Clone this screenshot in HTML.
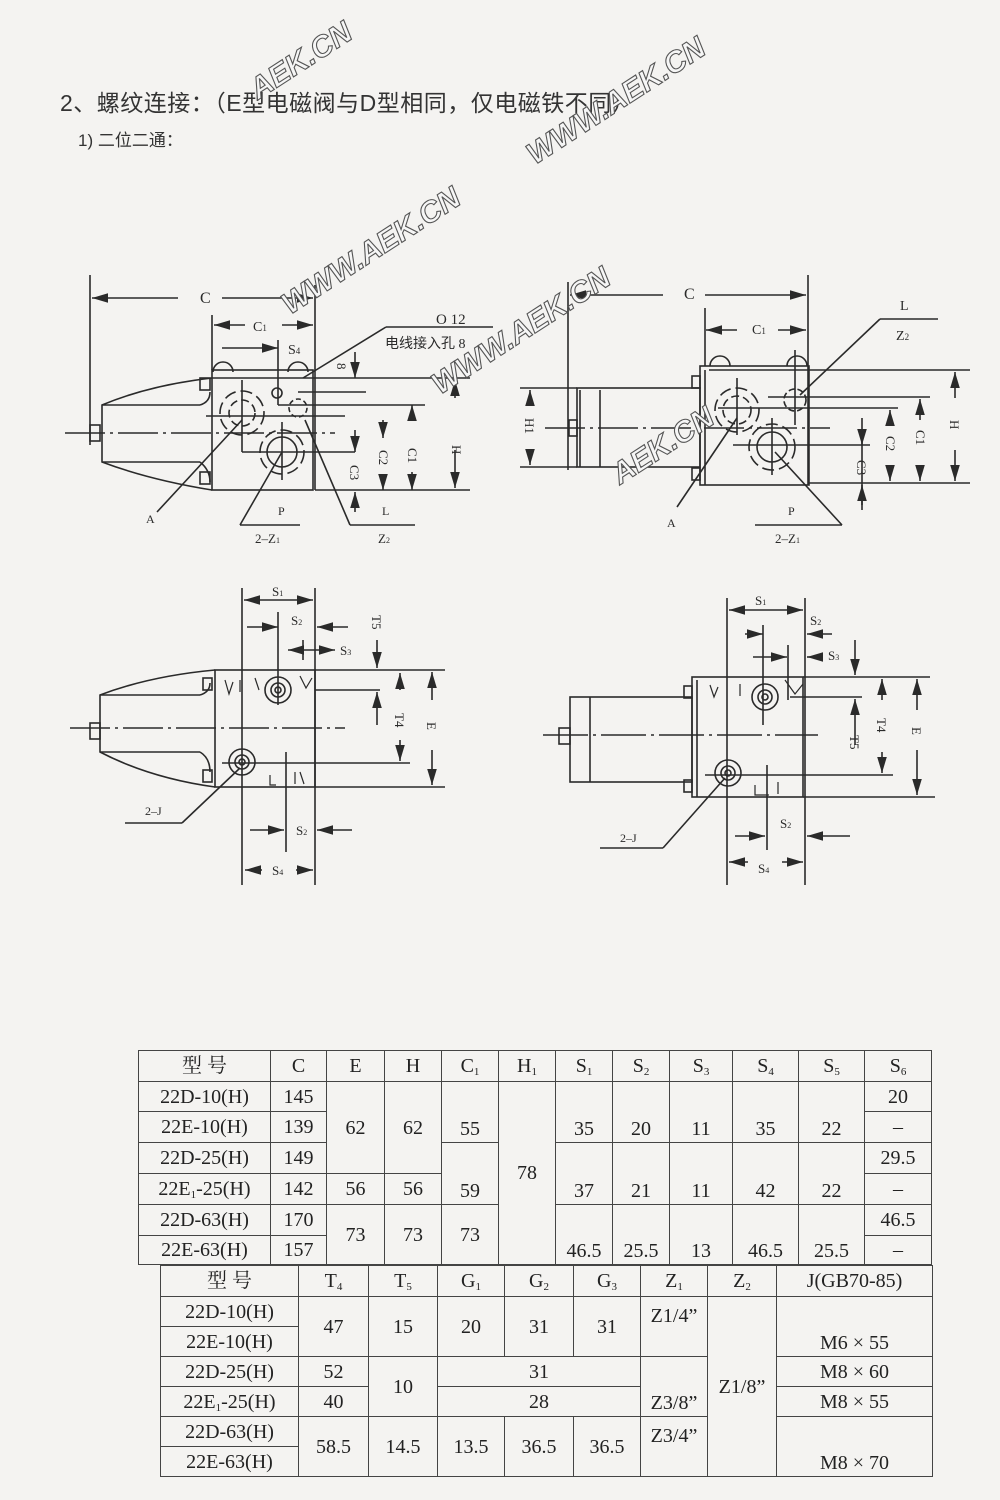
<!DOCTYPE html>
<html><head><meta charset="utf-8">
<style>
html,body{margin:0;padding:0;background:#f4f3f1;}
#w{position:relative;width:1000px;height:1500px;overflow:hidden;background:#f4f3f1;}
.t{position:absolute;font-family:"Liberation Sans","Noto Sans CJK SC",sans-serif;color:#333;}
table{position:absolute;border-collapse:collapse;font-family:"Liberation Serif","Noto Serif CJK SC",serif;font-size:20px;line-height:22px;color:#222;table-layout:fixed;}
td{border:1.5px solid #444;text-align:center;padding:0;overflow:hidden;}
td.b{vertical-align:bottom;padding-bottom:2px;}
sub{font-size:11px;vertical-align:-3px;line-height:0;}
svg{position:absolute;left:0;top:0;}
</style></head><body><div id="w">
<div class="t" style="left:60px;top:84px;font-size:23px;letter-spacing:0.5px;">2、螺纹连接：（E型电磁阀与D型相同，仅电磁铁不同）</div>
<div class="t" style="left:78px;top:126px;font-size:17px;">1) 二位二通：</div>

<svg width="1000" height="1000" viewBox="0 0 1000 1000" font-family="Liberation Serif,Noto Serif CJK SC,serif" fill="none" stroke="#2a2a2a" stroke-width="1.6">
<defs><marker id="a" viewBox="0 0 10 6" refX="10" refY="3" markerWidth="10" markerHeight="6" orient="auto-start-reverse"><path d="M0,0L10,3L0,6z" fill="#2a2a2a" stroke="none"/></marker></defs>
<!-- TOP LEFT -->
<g>
<line x1="90" y1="275" x2="90" y2="445"/><line x1="315" y1="285" x2="315" y2="490"/>
<line x1="92" y1="298" x2="178" y2="298" marker-start="url(#a)"/><line x1="222" y1="298" x2="313" y2="298" marker-end="url(#a)"/>
<line x1="212" y1="315" x2="212" y2="370"/>
<line x1="214" y1="325" x2="245" y2="325" marker-start="url(#a)"/><line x1="282" y1="325" x2="313" y2="325" marker-end="url(#a)"/>
<line x1="222" y1="348" x2="278" y2="348" marker-end="url(#a)"/><line x1="278" y1="340" x2="278" y2="405"/>
<rect x="212" y="370" width="101" height="120"/>
<line x1="212" y1="378" x2="470" y2="378"/>
<path d="M212,378 Q150,385 102,405 L102,462 Q150,480 212,490"/>
<line x1="102" y1="405" x2="200" y2="405"/><path d="M200,405 Q210,402 210,392"/>
<line x1="102" y1="462" x2="200" y2="462"/><path d="M200,462 Q210,470 210,482"/>
<rect x="90" y="425" width="10" height="16"/>
<line x1="65" y1="433" x2="335" y2="433" stroke-dasharray="40,5,3,5"/>
<path d="M213,372 a10,10 0 0 1 20,0"/><path d="M288,372 a10,10 0 0 1 20,0"/>
<rect x="200" y="378" width="10" height="12"/><rect x="200" y="472" width="10" height="12"/>
<circle cx="242" cy="413" r="13" stroke-dasharray="8,4"/><circle cx="242" cy="413" r="22" stroke-dasharray="12,5"/>
<circle cx="277" cy="393" r="5"/>
<circle cx="298" cy="408" r="9" stroke-dasharray="5,3"/>
<circle cx="282" cy="452" r="15"/><circle cx="282" cy="452" r="22" stroke-dasharray="12,5"/>
<line x1="242" y1="380" x2="242" y2="452"/><line x1="242" y1="452" x2="355" y2="452"/>
<line x1="206" y1="416" x2="345" y2="416"/><line x1="278" y1="405" x2="425" y2="405"/>
<line x1="298" y1="392" x2="366" y2="392"/>
<line x1="282" y1="422" x2="282" y2="480"/>
<line x1="303" y1="378" x2="386" y2="327"/><line x1="386" y1="327" x2="493" y2="327"/>
<line x1="355" y1="352" x2="355" y2="378" marker-end="url(#a)"/>
<line x1="355" y1="430" x2="355" y2="452" marker-end="url(#a)"/>
<line x1="355" y1="512" x2="355" y2="492" marker-end="url(#a)"/>
<line x1="383" y1="420" x2="383" y2="438" marker-end="url(#a)"/><line x1="383" y1="475" x2="383" y2="490" marker-end="url(#a)"/>
<line x1="412" y1="420" x2="412" y2="405" marker-end="url(#a)"/><line x1="412" y1="472" x2="412" y2="490" marker-end="url(#a)"/>
<line x1="455" y1="398" x2="455" y2="380" marker-end="url(#a)"/><line x1="455" y1="450" x2="455" y2="488" marker-end="url(#a)"/>
<line x1="315" y1="490" x2="470" y2="490"/>
<line x1="242" y1="420" x2="157" y2="512"/>
<line x1="282" y1="452" x2="240" y2="525"/><line x1="240" y1="525" x2="300" y2="525"/>
<line x1="305" y1="420" x2="350" y2="525"/><line x1="350" y1="525" x2="415" y2="525"/>
</g>
<g fill="#2a2a2a" stroke="none" font-size="14">
<text x="200" y="303" font-size="16">C</text><text x="253" y="331">C<tspan font-size="9">1</tspan></text>
<text x="288" y="354">S<tspan font-size="9">4</tspan></text>
<text x="436" y="324" font-size="15">O 12</text>
<text x="385" y="348" font-size="14" font-family="Liberation Serif,Noto Sans CJK SC,sans-serif">电线接入孔 8</text>
<text transform="translate(337,363) rotate(90)" font-size="13">8</text>
<text transform="translate(452,445) rotate(90)" font-size="13">H</text>
<text transform="translate(408,448) rotate(90)" font-size="13">C1</text>
<text transform="translate(379,450) rotate(90)" font-size="13">C2</text>
<text transform="translate(350,465) rotate(90)" font-size="13">C3</text>
<text x="146" y="523" font-size="12">A</text><text x="278" y="515" font-size="12">P</text>
<text x="255" y="543" font-size="13">2–Z<tspan font-size="8">1</tspan></text>
<text x="382" y="515" font-size="12">L</text><text x="378" y="543" font-size="13">Z<tspan font-size="8">2</tspan></text>
</g>

<!-- TOP RIGHT -->
<g>
<line x1="568" y1="282" x2="568" y2="470"/><line x1="808" y1="275" x2="808" y2="485"/>
<line x1="570" y1="295" x2="663" y2="295" marker-start="url(#a)"/><line x1="705" y1="295" x2="806" y2="295" marker-end="url(#a)"/>
<line x1="705" y1="308" x2="705" y2="366"/>
<line x1="706" y1="330" x2="737" y2="330" marker-start="url(#a)"/><line x1="778" y1="330" x2="806" y2="330" marker-end="url(#a)"/>
<rect x="700" y="366" width="109" height="119"/><line x1="705" y1="370" x2="705" y2="485"/>
<line x1="709" y1="370" x2="970" y2="370"/><line x1="809" y1="483" x2="970" y2="483"/>
<rect x="577" y="388" width="123" height="79"/><line x1="580" y1="390" x2="580" y2="467"/><line x1="600" y1="390" x2="600" y2="467"/>
<line x1="520" y1="388" x2="577" y2="388"/><line x1="520" y1="467" x2="577" y2="467"/>
<rect x="569" y="420" width="8" height="16"/>
<line x1="545" y1="428" x2="830" y2="428" stroke-dasharray="40,5,3,5"/>
<path d="M710,366 a10,10 0 0 1 20,0"/><path d="M787,366 a10,10 0 0 1 20,0"/>
<rect x="692" y="376" width="8" height="12"/><rect x="692" y="468" width="8" height="12"/>
<circle cx="737" cy="410" r="14" stroke-dasharray="8,4"/><circle cx="737" cy="410" r="22" stroke-dasharray="12,5"/>
<circle cx="795" cy="400" r="11" stroke-dasharray="6,3"/>
<circle cx="772" cy="447" r="15"/><circle cx="772" cy="447" r="23" stroke-dasharray="12,5"/>
<line x1="737" y1="378" x2="737" y2="435"/><line x1="772" y1="418" x2="772" y2="475"/><line x1="795" y1="350" x2="795" y2="425"/>
<line x1="718" y1="408" x2="898" y2="408"/><line x1="768" y1="397" x2="930" y2="397"/><line x1="733" y1="445" x2="870" y2="445"/>
<line x1="530" y1="402" x2="530" y2="390" marker-end="url(#a)"/><line x1="530" y1="452" x2="530" y2="465" marker-end="url(#a)"/>
<line x1="955" y1="398" x2="955" y2="372" marker-end="url(#a)"/><line x1="955" y1="450" x2="955" y2="481" marker-end="url(#a)"/>
<line x1="920" y1="420" x2="920" y2="399" marker-end="url(#a)"/><line x1="920" y1="465" x2="920" y2="481" marker-end="url(#a)"/>
<line x1="890" y1="425" x2="890" y2="410" marker-end="url(#a)"/><line x1="890" y1="465" x2="890" y2="481" marker-end="url(#a)"/>
<line x1="862" y1="418" x2="862" y2="510"/><line x1="862" y1="430" x2="862" y2="445" marker-end="url(#a)"/><line x1="862" y1="505" x2="862" y2="485" marker-end="url(#a)"/>
<line x1="800" y1="395" x2="880" y2="319"/><line x1="880" y1="319" x2="938" y2="319"/>
<line x1="737" y1="418" x2="677" y2="507"/>
<line x1="775" y1="452" x2="842" y2="525"/><line x1="842" y1="525" x2="755" y2="525"/>
</g>
<g fill="#2a2a2a" stroke="none" font-size="14">
<text x="684" y="299" font-size="16">C</text><text x="752" y="334">C<tspan font-size="9">1</tspan></text>
<text x="900" y="310">L</text><text x="896" y="340">Z<tspan font-size="9">2</tspan></text>
<text transform="translate(950,420) rotate(90)" font-size="13">H</text>
<text transform="translate(916,430) rotate(90)" font-size="13">C1</text>
<text transform="translate(886,436) rotate(90)" font-size="13">C2</text>
<text transform="translate(857,460) rotate(90)" font-size="13">C3</text>
<text transform="translate(525,418) rotate(90)" font-size="13">H1</text>
<text x="667" y="527" font-size="12">A</text><text x="788" y="515" font-size="12">P</text>
<text x="775" y="543" font-size="13">2–Z<tspan font-size="8">1</tspan></text>
</g>

<!-- BOTTOM LEFT -->
<g>
<line x1="242" y1="588" x2="242" y2="885"/><line x1="315" y1="588" x2="315" y2="885"/>
<line x1="244" y1="600" x2="313" y2="600" marker-start="url(#a)" marker-end="url(#a)"/>
<line x1="247" y1="627" x2="278" y2="627" marker-end="url(#a)"/><line x1="348" y1="627" x2="317" y2="627" marker-end="url(#a)"/>
<line x1="278" y1="612" x2="278" y2="705"/>
<line x1="288" y1="650" x2="335" y2="650" marker-start="url(#a)" marker-end="url(#a)"/><line x1="303" y1="640" x2="303" y2="660"/>
<rect x="215" y="670" width="100" height="117"/>
<line x1="315" y1="670" x2="445" y2="670"/><line x1="315" y1="787" x2="445" y2="787"/>
<path d="M215,670 Q150,676 100,695 L100,752 Q150,778 215,787"/>
<line x1="100" y1="695" x2="200" y2="695"/><path d="M200,695 Q210,692 210,683"/>
<line x1="100" y1="752" x2="200" y2="752"/><path d="M200,752 Q210,758 210,772"/>
<rect x="90" y="723" width="10" height="16"/>
<rect x="203" y="678" width="9" height="12"/><rect x="203" y="770" width="9" height="12"/>
<line x1="70" y1="728" x2="345" y2="728" stroke-dasharray="40,5,3,5"/>
<circle cx="278" cy="690" r="13"/><circle cx="278" cy="690" r="7"/><circle cx="278" cy="690" r="3"/>
<circle cx="242" cy="762" r="13"/><circle cx="242" cy="762" r="7"/><circle cx="242" cy="762" r="3"/>
<line x1="315" y1="690" x2="380" y2="690"/><line x1="222" y1="763" x2="410" y2="763"/>
<line x1="286" y1="752" x2="286" y2="852"/>
<line x1="377" y1="640" x2="377" y2="668" marker-end="url(#a)"/><line x1="377" y1="725" x2="377" y2="692" marker-end="url(#a)"/>
<line x1="400" y1="690" x2="400" y2="673" marker-end="url(#a)"/><line x1="400" y1="740" x2="400" y2="761" marker-end="url(#a)"/>
<line x1="432" y1="700" x2="432" y2="672" marker-end="url(#a)"/><line x1="432" y1="750" x2="432" y2="785" marker-end="url(#a)"/>
<line x1="250" y1="830" x2="284" y2="830" marker-end="url(#a)"/><line x1="352" y1="830" x2="317" y2="830" marker-end="url(#a)"/>
<line x1="245" y1="870" x2="262" y2="870" marker-start="url(#a)"/><line x1="296" y1="870" x2="313" y2="870" marker-end="url(#a)"/>
<line x1="240" y1="768" x2="182" y2="823"/><line x1="182" y1="823" x2="125" y2="823"/>
<path d="M225,680 l4,14 l4,-12 M240,680 l0,12 M255,678 l4,12 M300,676 l6,12 l6,-10" stroke-width="1.2"/>
<path d="M270,775 l0,10 l6,0 M295,772 l0,12 M300,772 l4,12" stroke-width="1.2"/>
</g>
<g fill="#2a2a2a" stroke="none" font-size="13">
<text x="272" y="596">S<tspan font-size="8">1</tspan></text><text x="291" y="625">S<tspan font-size="8">2</tspan></text>
<text x="340" y="655">S<tspan font-size="8">3</tspan></text>
<text x="296" y="835">S<tspan font-size="8">2</tspan></text><text x="272" y="875">S<tspan font-size="8">4</tspan></text>
<text transform="translate(372,615) rotate(90)">T5</text><text transform="translate(395,713) rotate(90)">T4</text>
<text transform="translate(427,722) rotate(90)">E</text>
<text x="145" y="815" font-size="12">2–J</text>
</g>

<!-- BOTTOM RIGHT -->
<g>
<line x1="727" y1="598" x2="727" y2="885"/><line x1="805" y1="598" x2="805" y2="885"/>
<line x1="729" y1="610" x2="803" y2="610" marker-start="url(#a)" marker-end="url(#a)"/>
<line x1="745" y1="634" x2="763" y2="634" marker-end="url(#a)"/><line x1="832" y1="634" x2="807" y2="634" marker-end="url(#a)"/>
<line x1="763" y1="625" x2="763" y2="725"/>
<line x1="753" y1="657" x2="787" y2="657" marker-end="url(#a)"/><line x1="822" y1="657" x2="807" y2="657" marker-end="url(#a)"/><line x1="788" y1="645" x2="788" y2="700"/>
<rect x="692" y="677" width="111" height="120"/><line x1="697" y1="680" x2="697" y2="797"/>
<line x1="803" y1="677" x2="930" y2="677"/><line x1="803" y1="797" x2="935" y2="797"/>
<rect x="570" y="697" width="122" height="85"/><line x1="590" y1="697" x2="590" y2="782"/>
<rect x="559" y="728" width="11" height="16"/>
<rect x="684" y="686" width="8" height="12"/><rect x="684" y="780" width="8" height="12"/>
<line x1="543" y1="735" x2="818" y2="735" stroke-dasharray="45,5,3,5"/>
<circle cx="765" cy="697" r="13"/><circle cx="765" cy="697" r="7"/><circle cx="765" cy="697" r="3"/>
<circle cx="728" cy="773" r="13"/><circle cx="728" cy="773" r="7"/><circle cx="728" cy="773" r="3"/>
<line x1="790" y1="697" x2="862" y2="697"/><line x1="705" y1="775" x2="893" y2="775"/>
<line x1="767" y1="765" x2="767" y2="850"/>
<line x1="855" y1="640" x2="855" y2="675" marker-end="url(#a)"/><line x1="855" y1="745" x2="855" y2="699" marker-end="url(#a)"/>
<line x1="882" y1="700" x2="882" y2="679" marker-end="url(#a)"/><line x1="882" y1="752" x2="882" y2="773" marker-end="url(#a)"/>
<line x1="917" y1="710" x2="917" y2="679" marker-end="url(#a)"/><line x1="917" y1="750" x2="917" y2="795" marker-end="url(#a)"/>
<line x1="735" y1="836" x2="765" y2="836" marker-end="url(#a)"/><line x1="850" y1="836" x2="807" y2="836" marker-end="url(#a)"/>
<line x1="729" y1="862" x2="748" y2="862" marker-start="url(#a)"/><line x1="782" y1="862" x2="803" y2="862" marker-end="url(#a)"/>
<line x1="725" y1="778" x2="663" y2="848"/><line x1="663" y1="848" x2="600" y2="848"/>
<path d="M710,685 l4,12 l4,-10 M740,684 l0,12 M785,680 l10,14 l8,-10" stroke-width="1.2"/>
<path d="M755,785 l0,10 l14,0 M778,782 l0,12" stroke-width="1.2"/>
</g>
<g fill="#2a2a2a" stroke="none" font-size="13">
<text x="755" y="605">S<tspan font-size="8">1</tspan></text><text x="810" y="625">S<tspan font-size="8">2</tspan></text>
<text x="828" y="660">S<tspan font-size="8">3</tspan></text>
<text x="780" y="828">S<tspan font-size="8">2</tspan></text><text x="758" y="873">S<tspan font-size="8">4</tspan></text>
<text transform="translate(850,735) rotate(90)">T5</text><text transform="translate(877,718) rotate(90)">T4</text>
<text transform="translate(912,727) rotate(90)">E</text>
<text x="620" y="842" font-size="12">2–J</text>
</g>

<!-- watermarks -->
<g font-family="Liberation Sans,sans-serif" font-weight="bold" font-size="30" fill="#f6f6f6" stroke="#555" stroke-width="1.1" font-style="italic">
<text transform="translate(258,100) rotate(-33)">AEK.CN</text>
<text transform="translate(535,165) rotate(-33)">WWW.AEK.CN</text>
<text transform="translate(290,315) rotate(-33)">WWW.AEK.CN</text>
<text transform="translate(440,395) rotate(-33)">WWW.AEK.CN</text>
<text transform="translate(620,485) rotate(-33)">AEK.CN</text>
</g>
</svg>

<table style="left:138px;top:1050px;width:793px;">
<colgroup><col style="width:132px"><col style="width:56px"><col style="width:58px"><col style="width:57px"><col style="width:57px"><col style="width:57px"><col style="width:57px"><col style="width:57px"><col style="width:63px"><col style="width:66px"><col style="width:66px"><col style="width:67px"></colgroup>
<tr style="height:31px"><td>型 号</td><td>C</td><td>E</td><td>H</td><td>C<sub>1</sub></td><td>H<sub>1</sub></td><td>S<sub>1</sub></td><td>S<sub>2</sub></td><td>S<sub>3</sub></td><td>S<sub>4</sub></td><td>S<sub>5</sub></td><td>S<sub>6</sub></td></tr>
<tr style="height:30px"><td>22D-10(H)</td><td>145</td><td rowspan="3">62</td><td rowspan="3">62</td><td rowspan="2" class="b">55</td><td rowspan="6">78</td><td rowspan="2" class="b">35</td><td rowspan="2" class="b">20</td><td rowspan="2" class="b">11</td><td rowspan="2" class="b">35</td><td rowspan="2" class="b">22</td><td>20</td></tr>
<tr style="height:31px"><td>22E-10(H)</td><td>139</td><td>–</td></tr>
<tr style="height:31px"><td>22D-25(H)</td><td>149</td><td rowspan="2" class="b">59</td><td rowspan="2" class="b">37</td><td rowspan="2" class="b">21</td><td rowspan="2" class="b">11</td><td rowspan="2" class="b">42</td><td rowspan="2" class="b">22</td><td>29.5</td></tr>
<tr style="height:31px"><td>22E<sub>1</sub>-25(H)</td><td>142</td><td>56</td><td>56</td><td>–</td></tr>
<tr style="height:31px"><td>22D-63(H)</td><td>170</td><td rowspan="2">73</td><td rowspan="2">73</td><td rowspan="2">73</td><td rowspan="2" class="b">46.5</td><td rowspan="2" class="b">25.5</td><td rowspan="2" class="b">13</td><td rowspan="2" class="b">46.5</td><td rowspan="2" class="b">25.5</td><td>46.5</td></tr>
<tr style="height:29px"><td>22E-63(H)</td><td>157</td><td>–</td></tr>
</table>

<table style="left:160px;top:1265px;width:772px;">
<colgroup><col style="width:138px"><col style="width:70px"><col style="width:69px"><col style="width:67px"><col style="width:69px"><col style="width:67px"><col style="width:67px"><col style="width:69px"><col style="width:156px"></colgroup>
<tr style="height:31px"><td>型 号</td><td>T<sub>4</sub></td><td>T<sub>5</sub></td><td>G<sub>1</sub></td><td>G<sub>2</sub></td><td>G<sub>3</sub></td><td>Z<sub>1</sub></td><td>Z<sub>2</sub></td><td>J(GB70-85)</td></tr>
<tr style="height:30px"><td>22D-10(H)</td><td rowspan="2">47</td><td rowspan="2">15</td><td rowspan="2">20</td><td rowspan="2">31</td><td rowspan="2">31</td><td rowspan="2" style="vertical-align:top;padding-top:8px">Z1/4”</td><td rowspan="6">Z1/8”</td><td rowspan="2" class="b">M6 × 55</td></tr>
<tr style="height:30px"><td>22E-10(H)</td></tr>
<tr style="height:30px"><td>22D-25(H)</td><td>52</td><td rowspan="2">10</td><td colspan="3">31</td><td rowspan="2" class="b">Z3/8”</td><td>M8 × 60</td></tr>
<tr style="height:30px"><td>22E<sub>1</sub>-25(H)</td><td>40</td><td colspan="3">28</td><td>M8 × 55</td></tr>
<tr style="height:30px"><td>22D-63(H)</td><td rowspan="2">58.5</td><td rowspan="2">14.5</td><td rowspan="2">13.5</td><td rowspan="2">36.5</td><td rowspan="2">36.5</td><td rowspan="2" style="vertical-align:top;padding-top:8px">Z3/4”</td><td rowspan="2" class="b">M8 × 70</td></tr>
<tr style="height:30px"><td>22E-63(H)</td></tr>
</table>
</div></body></html>
